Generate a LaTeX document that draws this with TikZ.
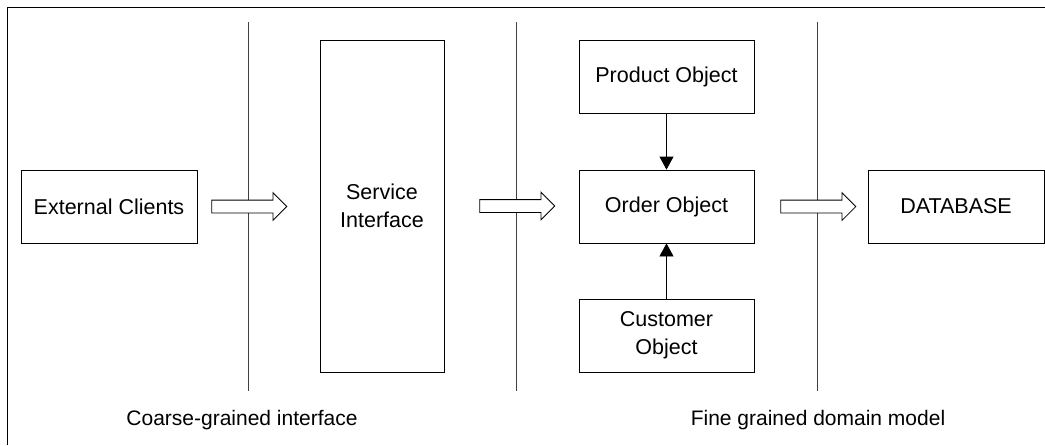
\documentclass[tikz,border=0pt]{standalone}
\usepackage{fontspec}
\setmainfont{Liberation Sans}
\usetikzlibrary{arrows.meta,positioning,shapes.arrows}

\begin{document}
\begin{tikzpicture}[x=1pt,y=-1pt,>={Triangle[length=13pt,width=14pt]},
    box/.style={draw,line width=0.8pt,align=center,inner sep=2pt,
        font=\fontsize{21.5}{28}\selectfont},
    wide/.style={box,minimum width=176pt,minimum height=73pt},
    obj/.style={box,minimum width=175pt,minimum height=73pt},
    fat/.style={draw,line width=0.8pt,single arrow,single arrow head extend=7.5pt,
        minimum height=75pt,inner xsep=0pt,inner ysep=6pt,fill=white},
    divider/.style={draw=black!75,line width=1pt},
    caption/.style={font=\fontsize{21}{24}\selectfont}]
    \useasboundingbox (0,0) rectangle (1045,445);

    % frame, cut off at the right and bottom
    \draw[line width=0.8pt] (7,445) -- (7,7) -- (1045,7);

    % layer dividers
    \draw[divider] (248,22) -- (248,391);
    \draw[divider] (516,22) -- (516,391);
    \draw[divider] (817,22) -- (817,391);

    % boxes
    \node[wide] (clients) at (109,206.5) {External Clients};
    \node[box,minimum width=124pt,minimum height=332pt] (service) at (382,206) {Service\\Interface};
    \node[obj] (product) at (666.5,77) {Product Object};
    \node[obj] (order) at (666.5,206.5) {Order Object};
    \node[obj] (customer) at (666.5,335.5) {Customer\\Object};
    \node[wide] (db) at (956,206.5) {DATABASE};

    % hollow flow arrows
    \node[fat,right=14pt of clients] (f1) {};
    \node[fat,right=35pt of service] (f2) {};
    \node[fat,right=26pt of order] (f3) {};

    % object links
    \draw[->,line width=0.8pt] (product) -- (order);
    \draw[->,line width=0.8pt] (customer) -- (order);

    % captions
    \node[caption] (coarse) at (242,420) {Coarse-grained interface};
    \node[caption] (fine) at (818,420) {Fine grained domain model};
\end{tikzpicture}
\end{document}
